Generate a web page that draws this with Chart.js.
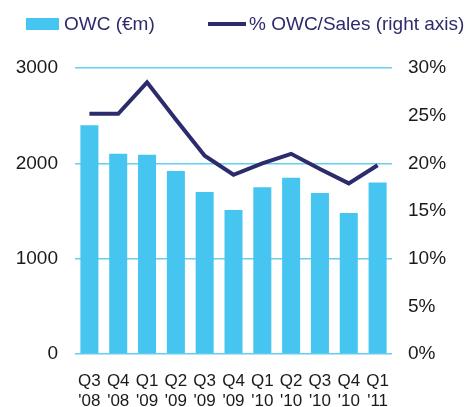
<!DOCTYPE html>
<html>
<head>
<meta charset="utf-8">
<script src="https://cdn.jsdelivr.net/npm/chart.js@4"></script>
<style>
  body { margin: 0; background: #fff; }
  canvas { display: block; }
</style>
</head>
<body>
<canvas id="myChart" width="470" height="407"></canvas>
<script>
const categories = [['Q3', "'08"], ['Q4', "'08"], ['Q1', "'09"], ['Q2', "'09"], ['Q3', "'09"], ['Q4', "'09"],
  ['Q1', "'10"], ['Q2', "'10"], ['Q3', "'10"], ['Q4', "'10"], ['Q1', "'11"]];
const owc = [2400, 2100, 2090, 1920, 1700, 1510, 1750, 1850, 1690, 1480, 1800];
const owcSalesPct = [25.2, 25.2, 28.5, 24.6, 20.8, 18.8, 20.0, 21.0, 19.4, 17.9, 19.8];
const leftTicks = [0, 1000, 2000, 3000];
const rightTicks = [0, 5, 10, 15, 20, 25, 30];

const barColor = '#45c5ef';
const navy = '#2c2c6c';
const gridColor = '#66cef0';
const fontFamily = '"Liberation Sans", Arial, sans-serif';

// legend drawn by hand so it sits where the original one does
const topLegend = {
  id: 'topLegend',
  afterDraw(chart) {
    const c = chart.ctx;
    const bar = chart.data.datasets[0];
    const line = chart.data.datasets[1];
    c.save();
    c.font = '19px ' + fontFamily;
    c.textBaseline = 'middle';
    c.fillStyle = bar.backgroundColor;
    c.fillRect(26, 18, 33, 12);
    c.fillStyle = navy;
    c.fillText(bar.label, 64, 25);
    c.strokeStyle = line.borderColor;
    c.lineWidth = 4;
    c.beginPath();
    c.moveTo(208, 24);
    c.lineTo(246, 24);
    c.stroke();
    c.fillText(line.label, 249, 25);
    c.restore();
  }
};

const ctx = document.getElementById('myChart');

new Chart(ctx, {
  data: {
    labels: categories,
    datasets: [{
      type: 'bar',
      label: 'OWC (€m)',
      data: owc,
      yAxisID: 'y',
      backgroundColor: barColor,
      categoryPercentage: 1,
      barPercentage: 0.625,
      order: 1
    }, {
      type: 'line',
      label: '% OWC/Sales (right axis)',
      data: owcSalesPct,
      yAxisID: 'y1',
      borderColor: navy,
      borderWidth: 4,
      pointRadius: 0,
      tension: 0,
      order: 0
    }]
  },
  options: {
    responsive: false,
    animation: false,
    layout: { padding: { top: 68, left: 0, right: 0, bottom: 0 } },
    plugins: {
      legend: { display: false },
      tooltip: { enabled: false }
    },
    scales: {
      x: {
        grid: { display: false },
        border: { display: false },
        ticks: {
          color: '#1a1a1a',
          font: { family: fontFamily, size: 17, lineHeight: 1.18 },
          padding: 9,
          maxRotation: 0,
          autoSkip: false
        },
        afterFit(scale) { scale.height = 53; }
      },
      y: {
        position: 'left',
        min: 0,
        max: 3000,
        afterBuildTicks(scale) { scale.ticks = leftTicks.map(v => ({ value: v })); },
        grid: { color: gridColor, lineWidth: 1.5, drawTicks: false },
        border: { display: false },
        ticks: {
          color: '#1a1a1a',
          font: { family: fontFamily, size: 19 },
          padding: 17,
          callback: v => String(v)
        },
        afterFit(scale) { scale.width = 75; }
      },
      y1: {
        position: 'right',
        min: 0,
        max: 30,
        afterBuildTicks(scale) { scale.ticks = rightTicks.map(v => ({ value: v })); },
        grid: { display: false, drawTicks: false },
        border: { display: false },
        ticks: {
          color: '#1a1a1a',
          font: { family: fontFamily, size: 19 },
          padding: 16,
          callback: v => v + '%'
        },
        afterFit(scale) { scale.width = 78; }
      }
    }
  },
  plugins: [topLegend]
});
</script>
</body>
</html>
